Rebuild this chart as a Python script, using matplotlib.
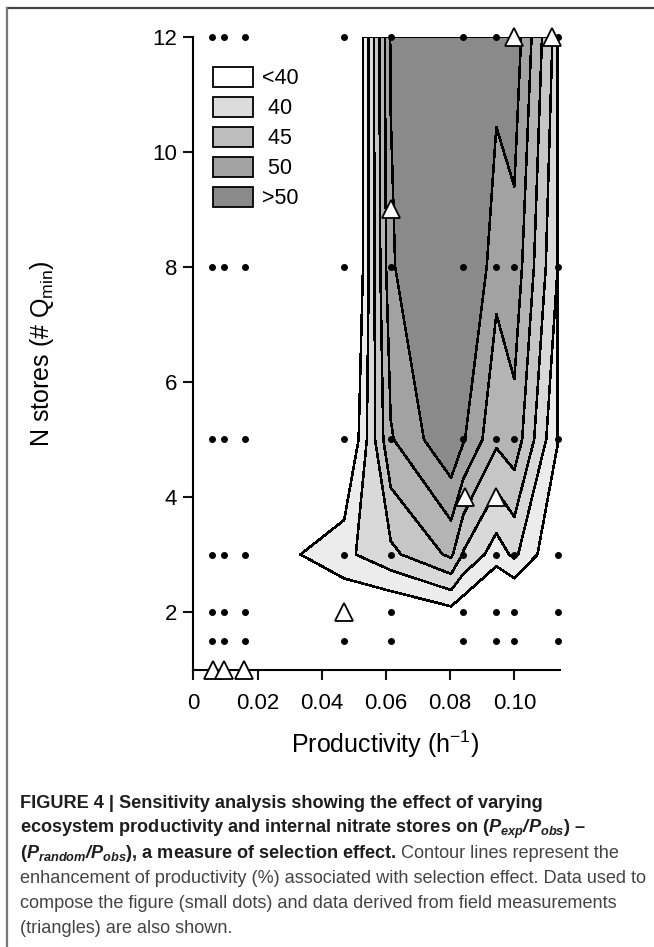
import numpy as np
import matplotlib
matplotlib.use("Agg")
import matplotlib.pyplot as plt
from matplotlib.lines import Line2D
from matplotlib.patches import Patch

# model runs used for the surface (small dots)
dot_x = [0.0059, 0.0096, 0.0161, 0.047, 0.0615, 0.0841, 0.0944, 0.1, 0.1135]
dot_y = [1.5, 2, 3, 5, 8, 12]

# field measurements (triangles)
field_x = [0.0062, 0.0097, 0.0159, 0.047, 0.0615, 0.0845, 0.0943, 0.0999, 0.1118]
field_y = [1, 1, 1, 2, 9, 4, 4, 12, 12]

# selection effect surface (% enhancement)
surf_x = [0.0059, 0.0096, 0.0161, 0.047, 0.0615, 0.0803, 0.0841, 0.0944, 0.1, 0.1135]
surf_y = [1.5, 2, 3, 5, 8, 12]
surf_y1_5 = [20, 22, 25, 32, 32, 33, 32, 31, 31, 30]
surf_y2 = [22, 26, 30, 37.9, 38, 39.3, 38.5, 36.1, 36.6, 33]
surf_y3 = [24, 28, 38.1, 41.5, 43.5, 46.4, 43.8, 41.0, 42.4, 37.9]
surf_y5 = [21, 23, 30, 36.5, 47.8, 51.8, 50.2, 46.4, 47.3, 40.1]
surf_y8 = [20, 22, 28, 33.5, 49.6, 55, 53.4, 48.6, 49.3, 42.0]
surf_y12 = [20, 22, 27, 33, 50.2, 56, 56, 50.9, 51.3, 43]

levels = [40, 42, 44, 46, 48, 50, 60]
band_colors = ['#ececec', '#d9d9d9', '#c6c6c6', '#b4b4b4', '#a2a2a2', '#8a8a8a']

legend_labels = ['<40', ' 40', ' 45', ' 50', '>50']
legend_colors = ['white', '#dcdcdc', '#bdbdbd', '#a3a3a3', '#8a8a8a']

x_ticks = [0, 0.02, 0.04, 0.06, 0.08, 0.10]
x_ticklabels = ['0', '0.02', '0.04', '0.06', '0.08', '0.10']
y_ticks = [2, 4, 6, 8, 10, 12]

caption_bold = [
    "FIGURE 4 | Sensitivity analysis showing the effect of varying",
    r"ecosystem productivity and internal nitrate stores on ($\mathbfit{P}_{\mathbfit{exp}}\mathbfit{/}\mathbfit{P}_{\mathbfit{obs}}$) –",
    r"($\mathbfit{P}_{\mathbfit{random}}\mathbfit{/}\mathbfit{P}_{\mathbfit{obs}}$), a measure of selection effect.",
]
caption_rest = [
    "Contour lines represent the",
    "enhancement of productivity (%) associated with selection effect. Data used to",
    "compose the figure (small dots) and data derived from field measurements",
    "(triangles) are also shown.",
]

plt.rcParams['font.family'] = ['Liberation Sans', 'DejaVu Sans']
plt.rcParams['mathtext.fontset'] = 'custom'
plt.rcParams['mathtext.rm'] = 'Liberation Sans'
plt.rcParams['mathtext.it'] = 'Liberation Sans:italic'
plt.rcParams['mathtext.bf'] = 'Liberation Sans:bold'
plt.rcParams['mathtext.bfit'] = 'Liberation Sans:italic:bold'

W, H = 654, 947
fig = plt.figure(figsize=(W / 100, H / 100), dpi=100)


def fx(px):
    return px / W


def fy(py):
    return 1 - py / H


ax = fig.add_axes([fx(193.3), fy(669.5), (559.9 - 193.3) / W, (669.5 - 37) / H])

Z = np.array([surf_y1_5, surf_y2, surf_y3, surf_y5, surf_y8, surf_y12])
cs = ax.contourf(surf_x, surf_y, Z, levels=levels, colors=band_colors, zorder=1)
cs.set_edgecolor('black')
cs.set_linewidth(1.1)

gx, gy = np.meshgrid(dot_x, dot_y)
ax.plot(gx.ravel(), gy.ravel(), 'o', color='black', markersize=4, zorder=3, clip_on=False)
ax.plot(field_x, field_y, '^', markerfacecolor='white', markeredgecolor='black',
        markersize=13, markeredgewidth=1.3, zorder=5, clip_on=False)

ax.set_xlim(0, 0.1142)
ax.set_ylim(1, 12)
ax.set_xticks(x_ticks)
ax.set_xticklabels(x_ticklabels)
ax.set_yticks(y_ticks)
for side in ['top', 'right']:
    ax.spines[side].set_visible(False)
for side in ['left', 'bottom']:
    ax.spines[side].set_linewidth(1.5)
ax.tick_params(direction='out', length=7.2, width=1.5, labelsize=16, color='#111111')
ax.tick_params(axis='x', pad=9.5)
ax.tick_params(axis='y', pad=4.3)

ax.set_xlabel(r"Productivity (h$^{\mathrm{-1}}$)", fontsize=18, va='top')
ax.xaxis.set_label_coords(0.524, -0.094)
ax.set_ylabel(r"N stores (# Q$_{\mathrm{min}}$)", fontsize=18)
ax.yaxis.set_label_coords(-0.3745, 0.5)

handles = [Patch(facecolor=c, edgecolor='black', linewidth=1.3) for c in legend_colors]
ax.legend(handles, legend_labels, loc='upper left', bbox_to_anchor=(0.053, 0.953),
          frameon=False, fontsize=15.5, handlelength=1.86, handleheight=1.05,
          labelspacing=0.36, handletextpad=0.43, borderpad=0, borderaxespad=0)

# page frame
fig.add_artist(Line2D([fx(7), 1], [fy(8), fy(8)], color='#444444', linewidth=1.6))
fig.add_artist(Line2D([fx(7), fx(7)], [fy(8), 0], color='#777777', linewidth=1.6))

# caption
bold_color = '#1e1e1e'
rest_color = '#444444'
baselines = [808, 833, 858, 883, 908, 933]
cap_size = 13.1
texts = []
for i, line in enumerate(caption_bold):
    t = fig.text(fx(20), fy(baselines[i]), line, fontsize=cap_size, fontweight='bold',
                 va='baseline', ha='left', color=bold_color)
    texts.append(t)
renderer = fig.canvas.get_renderer()
bb = texts[2].get_window_extent(renderer=renderer)
fig.text(fx(bb.x1 + 5), fy(baselines[2]), caption_rest[0], fontsize=cap_size,
         va='baseline', ha='left', color=rest_color)
for i, line in enumerate(caption_rest[1:]):
    fig.text(fx(20), fy(baselines[3 + i]), line, fontsize=cap_size,
             va='baseline', ha='left', color=rest_color)

fig.savefig('out.png', dpi=100)
